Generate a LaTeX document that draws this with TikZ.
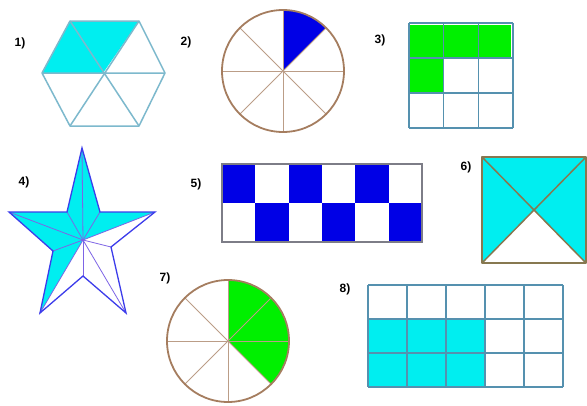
\documentclass[tikz,border=0pt]{standalone}
\usepackage{fontspec}
\setmainfont{Liberation Sans}
\usetikzlibrary{calc}
\definecolor{mycyan}{RGB}{0,238,240}
\definecolor{myblue}{RGB}{0,0,230}
\definecolor{mygreen}{RGB}{0,240,0}
\definecolor{hexline}{RGB}{125,185,205}
\definecolor{circline}{RGB}{165,125,95}
\definecolor{gridline}{RGB}{85,145,175}
\definecolor{checkline}{RGB}{125,125,135}
\definecolor{sqline}{RGB}{135,120,80}
\definecolor{starline}{RGB}{60,60,235}
\definecolor{starinner}{RGB}{125,100,230}
\begin{document}
\begin{tikzpicture}[x=1pt,y=-1pt,
  lab/.style={font=\bfseries\fontsize{12}{14}\selectfont, inner sep=0pt},
  hexst/.style={draw=hexline, line width=1.5pt, line join=round},
  circst/.style={draw=circline, line width=1.8pt},
  circin/.style={draw=circline!75, line width=0.9pt},
  gridst/.style={draw=gridline, line width=1.1pt},
  checkst/.style={draw=checkline, line width=1.2pt},
  sqst/.style={draw=sqline, line width=1.5pt, line join=round},
  starst/.style={draw=starline, line width=1.3pt, line join=miter},
  starln/.style={draw=starinner, line width=0.8pt}]
\useasboundingbox (0,0) rectangle (587,405);
\fill[white] (0,0) rectangle (587,405);

% labels
\node[lab] (l1) at (20,43) {1)};
\node[lab] (l2) at (186,42) {2)};
\node[lab] (l3) at (380,40) {3)};
\node[lab] (l4) at (24,182) {4)};
\node[lab] (l5) at (196,184) {5)};
\node[lab] (l6) at (466,167) {6)};
\node[lab] (l7) at (165,278) {7)};
\node[lab] (l8) at (345,289) {8)};

% 1) hexagon
\coordinate (hc) at (103,73);
\coordinate (hL) at (42,73);
\coordinate (hTL) at (70,21);
\coordinate (hTR) at (139,21);
\coordinate (hR) at (165,73);
\coordinate (hBR) at (139,126);
\coordinate (hBL) at (70,126);
\fill[mycyan] (hL) -- (hTL) -- (hTR) -- (hc) -- cycle;
\draw[hexst] (hL) -- (hTL) -- (hTR) -- (hR) -- (hBR) -- (hBL) -- cycle;
\draw[hexst] (hL) -- (hR) (hTL) -- (hBR) (hTR) -- (hBL);

% 2) circle
\coordinate (c2) at (283,71);
\fill[myblue] (c2) -- ++(-90:61) arc[start angle=-90, end angle=-45, radius=61] -- cycle;
\foreach \a in {0,45,90,135} \draw[circin] ($(c2)+(\a:61)$) -- ($(c2)+(\a+180:61)$);
\draw[circst] (c2) circle[radius=61];

% 3) 3x3 grid
\fill[mygreen] (410,24.5) rectangle (511,58);
\fill[mygreen] (410,58) rectangle (443.5,92.5);
\foreach \i in {0,1,2,3} {
  \draw[gridst] ({409+\i*34.67},23) -- ({409+\i*34.67},128);
  \draw[gridst] (409,{23+\i*35}) -- (513,{23+\i*35});
}

% 4) star
\coordinate (sC) at (83,240);
\coordinate (sT) at (82,148);
\coordinate (sUR) at (100,212);
\coordinate (sR) at (155,212);
\coordinate (sLR) at (111,247);
\coordinate (sBR) at (126,313);
\coordinate (sB) at (83,276);
\coordinate (sBL) at (40,313);
\coordinate (sLL) at (53,251);
\coordinate (sL) at (9,212);
\coordinate (sUL) at (67,212);
\fill[mycyan] (sC) -- (sR) -- (sUR) -- (sT) -- (sUL) -- (sL) -- (sLL) -- (sBL) -- cycle;
\foreach \p in {sT,sUR,sR,sLR,sBR,sB,sBL,sLL,sL,sUL} \draw[starln] (sC) -- (\p);
\draw[starst] (sT) -- (sUR) -- (sR) -- (sLR) -- (sBR) -- (sB) -- (sBL) -- (sLL) -- (sL) -- (sUL) -- cycle;

% 5) checkerboard
\foreach \i in {0,2,4} \fill[myblue] ({222+\i*33.33},164) rectangle ({222+(\i+1)*33.33},203);
\foreach \i in {1,3,5} \fill[myblue] ({222+\i*33.33},203) rectangle ({222+(\i+1)*33.33},242);
\draw[checkst] (222,164) rectangle (422,242);

% 6) square
\coordinate (q1) at (482,157);
\coordinate (q2) at (586,157);
\coordinate (q3) at (586,263);
\coordinate (q4) at (482,263);
\coordinate (qc) at (534,210);
\fill[mycyan] (q4) -- (q1) -- (q2) -- (q3) -- (qc) -- cycle;
\draw[sqst] (q1) -- (q2) -- (q3) -- (q4) -- cycle;
\draw[sqst] (q1) -- (q3) (q2) -- (q4);

% 7) circle
\coordinate (c7) at (228,341);
\fill[mygreen] (c7) -- ++(-90:61) arc[start angle=-90, end angle=45, radius=61] -- cycle;
\foreach \a in {0,45,90,135} \draw[circin] ($(c7)+(\a:61)$) -- ($(c7)+(\a+180:61)$);
\draw[circst] (c7) circle[radius=61];

% 8) 5x3 grid
\fill[mycyan] (368,319) rectangle (485,387);
\foreach \i in {0,...,5} \draw[gridst] ({368+\i*39},285) -- ({368+\i*39},387);
\foreach \j in {0,...,3} \draw[gridst] (368,{285+\j*34}) -- (563,{285+\j*34});
\end{tikzpicture}
\end{document}
